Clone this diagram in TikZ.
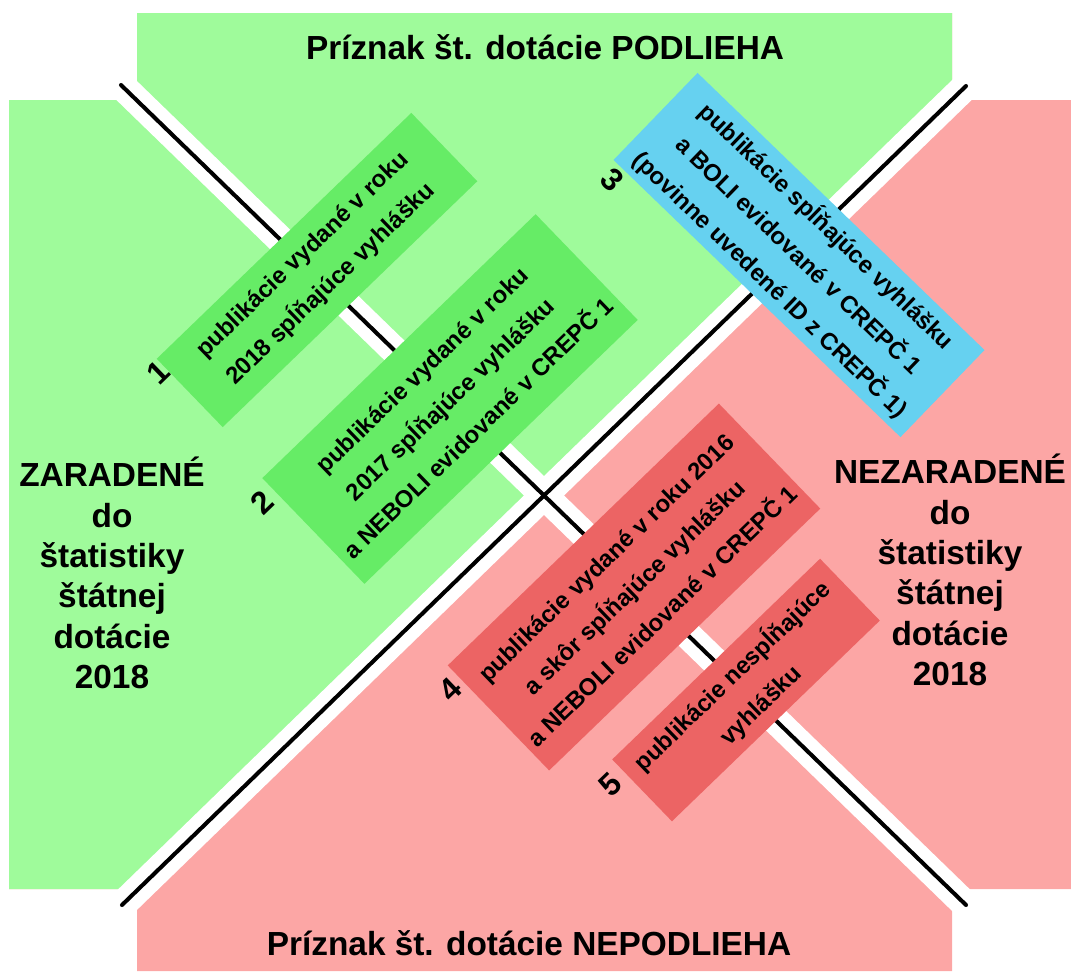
\documentclass[tikz,border=0pt]{standalone}
\usepackage{fontspec}
\setmainfont{Liberation Sans}
\definecolor{svetlozelena}{RGB}{159,251,155}
\definecolor{zelena}{RGB}{102,236,102}
\definecolor{svetlocervena}{RGB}{252,166,165}
\definecolor{cervena}{RGB}{236,100,100}
\definecolor{modra}{RGB}{102,209,240}
\newcommand{\titulfont}{\fontsize{19}{23}\selectfont\bfseries}
\newcommand{\polefont}{\fontsize{13.6}{23}\selectfont\bfseries}
\newcommand{\cislofont}{\fontsize{18}{20}\selectfont\bfseries}
\begin{document}
\begin{tikzpicture}[x=0.02cm,y=-0.02cm,
    titul/.style={align=center,font=\titulfont,inner sep=0pt},
    pole/.style={align=center,font=\polefont,inner sep=0pt},
    cislo/.style={font=\cislofont,inner sep=0pt},
    medzera/.style={line width=15.9pt,white},
    hranica/.style={line width=2.3pt,line cap=round}]
\useasboundingbox (0,0) rectangle (1071,971);

% Ends of the two diagonals
\coordinate (sz) at (121,85);
\coordinate (jv) at (966,905);
\coordinate (jz) at (122,905);
\coordinate (sv) at (966,86);

% Cross shape, lower right half (NEPODLIEHA / NEZARADENE)
\fill[svetlocervena] (137,13) -- (952,13) -- (952,100) -- (1071,100) -- (1071,889)
    -- (952,889) -- (952,971) -- (137,971) -- (137,889) -- (9,889) -- (9,100)
    -- (137,100) -- cycle;

% Cross shape, upper left half (PODLIEHA / ZARADENE)
\begin{scope}
\clip (-200,1217) -- (1300,-238) -- (-200,-238) -- cycle;
\fill[svetlozelena] (137,13) -- (952,13) -- (952,100) -- (1071,100) -- (1071,889)
    -- (952,889) -- (952,971) -- (137,971) -- (137,889) -- (9,889) -- (9,100)
    -- (137,100) -- cycle;
\end{scope}

% Drawing diagonals with white margin
\draw[medzera] (sz) -- (jv);
\draw[medzera] (jz) -- (sv);
\draw[hranica] (sz) -- (jv);
\draw[hranica] (jz) -- (sv);

% Headings
\node[titul] (podlieha) at (545,47) {Príznak št. dotácie PODLIEHA};
\node[titul] (nepodlieha) at (529,943) {Príznak št. dotácie NEPODLIEHA};
\node[titul] (zaradene) at (112,573) {ZARADENÉ\\do\\štatistiky\\štátnej\\dotácie\\2018};
\node[titul] (nezaradene) at (950,570) {NEZARADENÉ\\do\\štatistiky\\štátnej\\dotácie\\2018};

% Box 1
\node[pole, fill=zelena, rotate=44, minimum width=7.08cm, minimum height=1.9cm] (pole1)
    at (317,270) {publikácie vydané v roku\\2018 spĺňajúce vyhlášku};
\node[cislo, rotate=44] (c1) at (158,373) {1};

% Box 2
\node[pole, fill=zelena, rotate=44, minimum width=7.6cm, minimum height=2.94cm] (pole2)
    at (450,399) {publikácie vydané v roku\\2017 spĺňajúce vyhlášku\\a NEBOLI evidované v CREPČ 1};
\node[cislo, rotate=44] (c2) at (262,502) {2};

% Box 3
\node[pole, fill=modra, rotate=-44, minimum width=7.98cm, minimum height=2.42cm] (pole3)
    at (799,255) {publikácie spĺňajúce vyhlášku\\a BOLI evidované v CREPČ 1\\(povinne uvedené ID z CREPČ 1)};
\node[cislo, rotate=-44] (c3) at (612,180) {3};

% Box 4
\node[pole, fill=cervena, rotate=44, minimum width=7.54cm, minimum height=2.92cm] (pole4)
    at (634,587) {publikácie vydané v roku 2016\\a skôr spĺňajúce vyhlášku\\a NEBOLI evidované v CREPČ 1};
\node[cislo, rotate=44] (c4) at (450,690) {4};

% Box 5
\node[pole, fill=cervena, rotate=44, minimum width=5.78cm, minimum height=1.72cm] (pole5)
    at (746,690) {publikácie nespĺňajúce\\vyhlášku};
\node[cislo, rotate=44] (c5) at (610,785) {5};
\end{tikzpicture}
\end{document}
